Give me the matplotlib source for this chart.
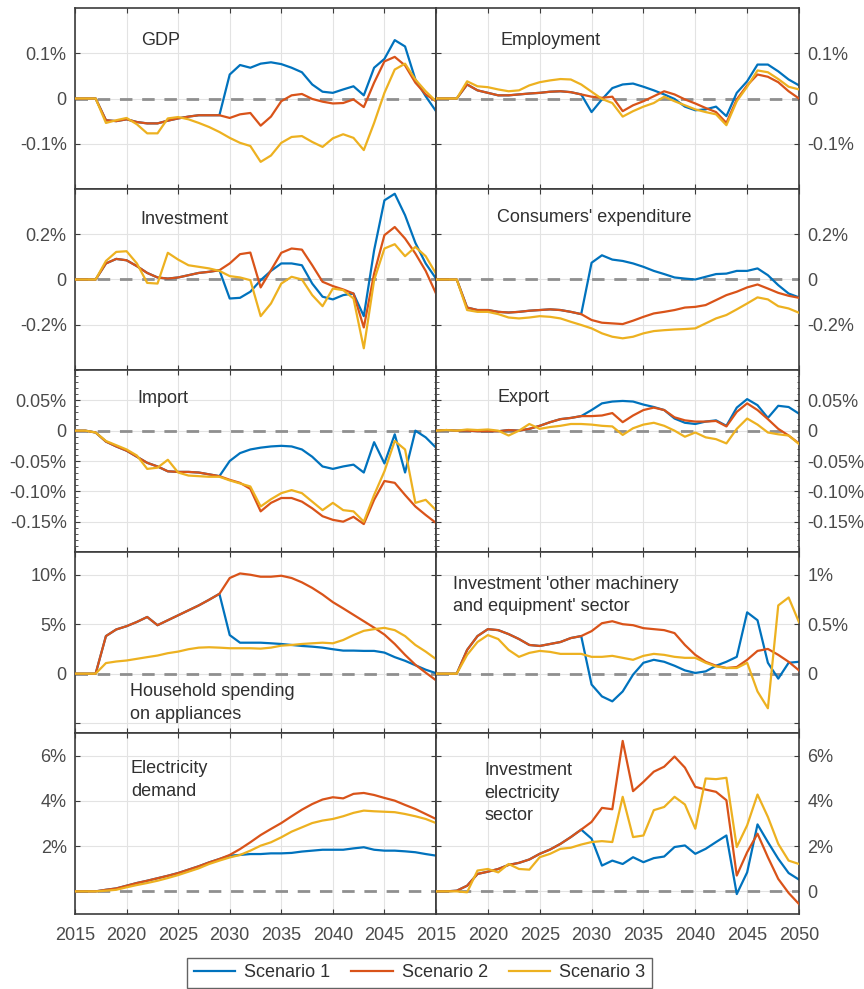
import numpy as np
import matplotlib
matplotlib.use("Agg")
import matplotlib.pyplot as plt
from matplotlib.lines import Line2D

plt.rcParams['font.family'] = ['Liberation Sans', 'DejaVu Sans']

years = list(range(2015, 2051))
scenario_names = ["Scenario 1", "Scenario 2", "Scenario 3"]

# ---- GDP (% deviation) ----
gdp_s1 = [0, 0, 0, -0.048, -0.050, -0.046, -0.052, -0.055, -0.055, -0.049, -0.044, -0.040, -0.037, -0.037, -0.037,
          0.053, 0.074, 0.068, 0.077, 0.080, 0.076, 0.068, 0.058, 0.031, 0.015, 0.0125, 0.020, 0.027, 0.007, 0.068,
          0.0875, 0.129, 0.115, 0.042, 0.005, -0.028]
gdp_s2 = [0, 0, 0, -0.048, -0.050, -0.046, -0.052, -0.055, -0.055, -0.049, -0.044, -0.040, -0.037, -0.037, -0.037,
          -0.043, -0.035, -0.032, -0.060, -0.040, -0.006, 0.007, 0.010, -0.001, -0.007, -0.011, -0.010, -0.002, -0.019,
          0.035, 0.082, 0.092, 0.073, 0.035, 0.009, -0.006]
gdp_s3 = [0, 0, 0, -0.054, -0.048, -0.043, -0.057, -0.077, -0.077, -0.044, -0.041, -0.046, -0.054, -0.063, -0.074,
          -0.087, -0.098, -0.105, -0.140, -0.126, -0.098, -0.085, -0.083, -0.096, -0.107, -0.088, -0.079, -0.087, -0.114,
          -0.054, 0.0125, 0.064, 0.077, 0.042, 0.016, -0.006]

# ---- Employment ----
emp_s1 = [0, 0, 0, 0.031, 0.018, 0.0125, 0.007, 0.007, 0.009, 0.011, 0.0125, 0.015, 0.016, 0.014, 0.009,
          -0.030, -0.002, 0.023, 0.031, 0.033, 0.026, 0.018, 0.009, -0.001, -0.018, -0.026, -0.024, -0.018, -0.039,
          0.0125, 0.038, 0.075, 0.075, 0.060, 0.042, 0.029]
emp_s2 = [0, 0, 0, 0.031, 0.018, 0.0125, 0.007, 0.007, 0.009, 0.011, 0.0125, 0.015, 0.016, 0.014, 0.009,
          0.004, 0.0015, 0.004, -0.028, -0.015, -0.006, 0.005, 0.016, 0.009, -0.002, -0.011, -0.021, -0.030, -0.054,
          -0.002, 0.029, 0.053, 0.048, 0.036, 0.016, 0.0]
emp_s3 = [0, 0, 0, 0.038, 0.027, 0.025, 0.020, 0.016, 0.018, 0.029, 0.036, 0.040, 0.043, 0.042, 0.031,
          0.015, -0.001, -0.010, -0.040, -0.028, -0.018, -0.010, 0.004, -0.006, -0.015, -0.024, -0.030, -0.035, -0.059,
          -0.006, 0.026, 0.062, 0.058, 0.043, 0.026, 0.020]

# ---- Investment ----
inv_s1 = [0, 0, 0, 0.071, 0.091, 0.085, 0.059, 0.029, 0.009, 0.004, 0.009, 0.019, 0.029, 0.034, 0.041,
          -0.084, -0.081, -0.054, -0.003, 0.038, 0.071, 0.071, 0.063, -0.018, -0.076, -0.088, -0.069, -0.062, -0.162,
          0.129, 0.350, 0.379, 0.284, 0.162, 0.071, 0.004]
inv_s2 = [0, 0, 0, 0.071, 0.091, 0.085, 0.059, 0.029, 0.009, 0.004, 0.009, 0.019, 0.029, 0.034, 0.041,
          0.071, 0.112, 0.119, -0.035, 0.041, 0.118, 0.137, 0.132, 0.063, -0.010, -0.029, -0.044, -0.062, -0.212,
          0.026, 0.196, 0.232, 0.181, 0.115, 0.038, -0.062]
inv_s3 = [0, 0, 0, 0.082, 0.122, 0.125, 0.071, -0.015, -0.018, 0.118, 0.088, 0.063, 0.056, 0.049, 0.038,
          0.015, 0.009, -0.003, -0.162, -0.106, -0.018, 0.012, 0.000, -0.069, -0.118, -0.040, -0.047, -0.084, -0.304,
          -0.003, 0.137, 0.156, 0.103, 0.144, 0.103, 0.026]

# ---- Consumers' expenditure ----
con_s1 = [0, 0, 0, -0.124, -0.135, -0.135, -0.143, -0.146, -0.143, -0.138, -0.135, -0.132, -0.135, -0.143, -0.153,
          0.074, 0.107, 0.088, 0.082, 0.071, 0.056, 0.038, 0.024, 0.009, 0.004, 0.000, 0.012, 0.024, 0.026, 0.038,
          0.038, 0.049, 0.019, -0.025, -0.062, -0.079]
con_s2 = [0, 0, 0, -0.124, -0.135, -0.135, -0.143, -0.146, -0.143, -0.138, -0.135, -0.132, -0.135, -0.143, -0.153,
          -0.179, -0.191, -0.194, -0.197, -0.182, -0.165, -0.150, -0.143, -0.135, -0.124, -0.121, -0.113, -0.091,
          -0.069, -0.054, -0.035, -0.022, -0.040, -0.059, -0.072, -0.081]
con_s3 = [0, 0, 0, -0.135, -0.143, -0.143, -0.153, -0.168, -0.172, -0.168, -0.162, -0.165, -0.172, -0.187, -0.201,
          -0.216, -0.238, -0.253, -0.260, -0.253, -0.238, -0.228, -0.224, -0.221, -0.219, -0.216, -0.194, -0.172,
          -0.157, -0.132, -0.106, -0.079, -0.088, -0.118, -0.128, -0.147]

# ---- Import ----
imp_s1 = [0, 0, -0.003, -0.018, -0.026, -0.033, -0.043, -0.053, -0.059, -0.067, -0.068, -0.068, -0.069, -0.072, -0.075,
          -0.050, -0.037, -0.031, -0.028, -0.026, -0.025, -0.026, -0.031, -0.043, -0.059, -0.063, -0.059, -0.056,
          -0.069, -0.019, -0.054, -0.006, -0.069, 0.000, -0.011, -0.028]
imp_s2 = [0, 0, -0.003, -0.018, -0.026, -0.033, -0.043, -0.053, -0.059, -0.067, -0.068, -0.068, -0.069, -0.072, -0.075,
          -0.081, -0.086, -0.096, -0.133, -0.119, -0.111, -0.111, -0.117, -0.128, -0.141, -0.147, -0.150, -0.142,
          -0.154, -0.114, -0.083, -0.086, -0.106, -0.125, -0.139, -0.152]
imp_s3 = [0, 0, -0.003, -0.017, -0.024, -0.031, -0.041, -0.063, -0.061, -0.048, -0.069, -0.074, -0.075, -0.076, -0.076,
          -0.082, -0.087, -0.092, -0.125, -0.113, -0.103, -0.098, -0.103, -0.117, -0.131, -0.119, -0.131, -0.133,
          -0.150, -0.106, -0.067, -0.017, -0.031, -0.119, -0.114, -0.131]

# ---- Export ----
exp_s1 = [0, 0.001, 0, 0, -0.001, -0.001, -0.001, 0.001, 0, 0.003, 0.008, 0.014, 0.019, 0.021, 0.024,
          0.034, 0.045, 0.048, 0.049, 0.048, 0.043, 0.039, 0.034, 0.020, 0.013, 0.011, 0.015, 0.017, 0.008, 0.038,
          0.052, 0.042, 0.021, 0.041, 0.039, 0.028]
exp_s2 = [0, 0.001, 0, 0, -0.001, -0.001, -0.001, 0.001, 0, 0.003, 0.008, 0.014, 0.019, 0.021, 0.024,
          0.024, 0.025, 0.029, 0.014, 0.025, 0.034, 0.038, 0.034, 0.022, 0.017, 0.015, 0.015, 0.016, 0.007, 0.031,
          0.045, 0.034, 0.019, 0.003, -0.008, -0.021]
exp_s3 = [0, 0.001, 0, 0.002, 0.001, 0.002, 0, -0.008, 0, 0.011, 0.003, 0.006, 0.008, 0.011, 0.011,
          0.010, 0.008, 0.007, -0.007, 0.004, 0.010, 0.013, 0.008, 0.000, -0.010, -0.003, -0.011, -0.014, -0.021,
          0.003, 0.020, 0.010, -0.003, -0.006, -0.008, -0.022]

# ---- Household spending on appliances ----
hh_s1 = [0, 0, 0, 3.8, 4.47, 4.8, 5.23, 5.73, 4.9, 5.4, 5.9, 6.4, 6.9, 7.47, 8.07,
         3.9, 3.13, 3.13, 3.13, 3.07, 3.0, 2.9, 2.8, 2.73, 2.63, 2.47, 2.33, 2.33, 2.3, 2.3,
         2.13, 1.67, 1.3, 0.85, 0.4, 0.05]
hh_s2 = [0, 0, 0, 3.8, 4.47, 4.8, 5.23, 5.73, 4.9, 5.4, 5.9, 6.4, 6.9, 7.47, 8.07,
         9.67, 10.13, 10.0, 9.8, 9.8, 9.9, 9.67, 9.23, 8.67, 8.0, 7.23, 6.6, 5.95, 5.3, 4.65,
         3.95, 3.0, 1.9, 0.9, 0.1, -0.67]
hh_s3 = [0, 0, 0, 1.07, 1.23, 1.33, 1.5, 1.67, 1.83, 2.07, 2.23, 2.47, 2.63, 2.67, 2.63,
         2.57, 2.57, 2.57, 2.53, 2.63, 2.83, 2.9, 3.0, 3.07, 3.13, 3.07, 3.4, 3.9, 4.33, 4.5,
         4.63, 4.4, 3.8, 2.9, 2.23, 1.47]

# ---- Investment 'other machinery and equipment' sector ----
mach_s1 = [0, 0, 0, 0.24, 0.38, 0.45, 0.44, 0.40, 0.35, 0.29, 0.28, 0.30, 0.32, 0.36, 0.38,
           -0.11, -0.23, -0.28, -0.18, -0.01, 0.11, 0.14, 0.12, 0.08, 0.033, 0.007, 0.023, 0.08, 0.12, 0.17,
           0.62, 0.54, 0.11, -0.05, 0.11, 0.12]
mach_s2 = [0, 0, 0, 0.24, 0.38, 0.45, 0.44, 0.40, 0.35, 0.29, 0.28, 0.30, 0.32, 0.36, 0.38,
           0.43, 0.51, 0.53, 0.50, 0.49, 0.46, 0.45, 0.44, 0.41, 0.29, 0.19, 0.12, 0.08, 0.057, 0.067,
           0.14, 0.23, 0.25, 0.19, 0.12, 0.033]
mach_s3 = [0, 0, 0, 0.19, 0.32, 0.39, 0.35, 0.24, 0.17, 0.21, 0.23, 0.22, 0.20, 0.20, 0.20,
           0.17, 0.17, 0.18, 0.16, 0.14, 0.18, 0.20, 0.19, 0.17, 0.16, 0.16, 0.11, 0.073, 0.057, 0.057,
           0.11, -0.18, -0.35, 0.69, 0.77, 0.52]

# ---- Electricity demand ----
eld_s1 = [0, 0, 0, 0.07, 0.13, 0.25, 0.37, 0.47, 0.58, 0.69, 0.81, 0.96, 1.11, 1.28, 1.43,
          1.58, 1.61, 1.65, 1.65, 1.68, 1.68, 1.70, 1.76, 1.80, 1.84, 1.84, 1.84, 1.90, 1.95, 1.84,
          1.80, 1.80, 1.77, 1.73, 1.65, 1.58]
eld_s2 = [0, 0, 0, 0.07, 0.13, 0.25, 0.37, 0.47, 0.58, 0.69, 0.81, 0.96, 1.11, 1.28, 1.43,
          1.61, 1.87, 2.17, 2.49, 2.76, 3.02, 3.32, 3.61, 3.86, 4.06, 4.16, 4.11, 4.31, 4.35, 4.26,
          4.13, 4.01, 3.82, 3.64, 3.42, 3.20]
eld_s3 = [0, 0, 0, 0.03, 0.07, 0.18, 0.28, 0.37, 0.47, 0.59, 0.72, 0.87, 1.02, 1.21, 1.36,
          1.50, 1.61, 1.80, 2.02, 2.17, 2.39, 2.64, 2.83, 3.02, 3.13, 3.20, 3.32, 3.47, 3.57, 3.54,
          3.52, 3.50, 3.42, 3.32, 3.20, 3.02]

# ---- Investment electricity sector ----
iel_s1 = [0, 0, 0.03, 0.25, 0.77, 0.87, 0.99, 1.17, 1.26, 1.41, 1.66, 1.85, 2.10, 2.40, 2.73,
          2.33, 1.14, 1.36, 1.21, 1.51, 1.29, 1.47, 1.54, 1.96, 2.03, 1.66, 1.88, 2.18, 2.47, -0.12,
          0.84, 2.96, 2.18, 1.44, 0.81, 0.52]
iel_s2 = [0, 0, 0.03, 0.25, 0.77, 0.87, 0.99, 1.17, 1.26, 1.41, 1.66, 1.85, 2.10, 2.40, 2.73,
          3.07, 3.69, 3.63, 6.65, 4.43, 4.84, 5.29, 5.51, 5.96, 5.47, 4.62, 4.50, 4.40, 4.03, 0.70,
          1.73, 2.55, 1.51, 0.55, -0.07, -0.56]
iel_s3 = [0, 0, 0, -0.04, 0.92, 0.99, 0.84, 1.21, 0.99, 0.96, 1.51, 1.66, 1.88, 1.93, 2.07,
          2.18, 2.22, 2.18, 4.18, 2.40, 2.47, 3.59, 3.73, 4.18, 3.84, 2.77, 4.99, 4.96, 5.02, 1.96,
          2.92, 4.28, 3.29, 2.10, 1.36, 1.21]

titles = ["GDP", "Employment", "Investment", "Consumers' expenditure", "Import", "Export",
          "Household spending\non appliances", "Investment 'other machinery\nand equipment' sector",
          "Electricity\ndemand", "Investment\nelectricity\nsector"]

series = [(gdp_s1, gdp_s2, gdp_s3), (emp_s1, emp_s2, emp_s3),
          (inv_s1, inv_s2, inv_s3), (con_s1, con_s2, con_s3),
          (imp_s1, imp_s2, imp_s3), (exp_s1, exp_s2, exp_s3),
          (hh_s1, hh_s2, hh_s3), (mach_s1, mach_s2, mach_s3),
          (eld_s1, eld_s2, eld_s3), (iel_s1, iel_s2, iel_s3)]

# y ticks and their labels per panel
yticks = [[-0.1, 0, 0.1], [-0.1, 0, 0.1],
          [-0.2, 0, 0.2], [-0.2, 0, 0.2],
          [-0.15, -0.10, -0.05, 0, 0.05], [-0.15, -0.10, -0.05, 0, 0.05],
          [-5, 0, 5, 10], [-0.5, 0, 0.5, 1],
          [2, 4, 6], [0, 2, 4, 6]]
ytick_labels = [["-0.1%", "0", "0.1%"], ["-0.1%", "0", "0.1%"],
                ["-0.2%", "0", "0.2%"], ["-0.2%", "0", "0.2%"],
                ["-0.15%", "-0.10%", "-0.05%", "0", "0.05%"], ["-0.15%", "-0.10%", "-0.05%", "0", "0.05%"],
                ["", "0", "5%", "10%"], ["", "0", "0.5%", "1%"],
                ["2%", "4%", "6%"], ["0", "2%", "4%", "6%"]]
ylims = [(-0.2, 0.2), (-0.2, 0.2), (-0.4, 0.4), (-0.4, 0.4), (-0.2, 0.1), (-0.2, 0.1),
         (-6, 12.3), (-0.6, 1.23), (-1, 7), (-1, 7)]
title_pos = [(0.183, 0.82), (0.177, 0.82), (0.18, 0.834), (0.168, 0.84), (0.174, 0.846), (0.17, 0.85),
             (0.152, 0.166), (0.047, 0.76), (0.155, 0.74), (0.133, 0.668)]

colors = ["#0072BD", "#D95319", "#EDB120"]
spine_col = "#3c3c3c"
text_col = "#4a4a4a"
W, H = 864, 989

fig = plt.figure(figsize=(W / 100, H / 100), dpi=100)
row_tops = [8, 189, 370, 552, 733]
row_bot = 914
col_x = [(75, 436), (436, 799)]

for i in range(10):
    r, c = divmod(i, 2)
    top = row_tops[r]
    bot = row_tops[r + 1] if r < 4 else row_bot
    x0, x1 = col_x[c]
    ax = fig.add_axes([x0 / W, 1 - bot / H, (x1 - x0) / W, (bot - top) / H])
    ax.set_xlim(2015, 2050)
    ax.set_ylim(*ylims[i])
    ax.set_xticks(range(2015, 2051, 5))
    ax.set_yticks(yticks[i])
    ax.set_yticklabels(ytick_labels[i])
    ax.grid(True, color="#e3e3e3", lw=0.8, zorder=0)
    ax.set_axisbelow(True)
    ax.axhline(0, color="#8f8f8f", lw=2.0, ls=(0, (4.5, 3.5)), zorder=1)
    for k in range(3):
        ax.plot(years, series[i][k], color=colors[k], lw=1.6, zorder=2 + k)
    ax.text(title_pos[i][0], title_pos[i][1], titles[i], transform=ax.transAxes,
            ha="left", va="center", fontsize=13, color="#303030", linespacing=1.42)
    for s in ax.spines.values():
        s.set_color(spine_col)
        s.set_linewidth(1.2)
    ax.tick_params(direction="in", length=3.5, width=0.8, color=spine_col,
                   top=True, bottom=True, left=True, right=True,
                   labelsize=13, labelcolor=text_col, pad=6)
    ax.tick_params(axis="y", labelleft=(c == 0), labelright=(c == 1))
    if r == 2:
        ax.set_yticks(np.arange(-0.2, 0.1001, 0.01), minor=True)
        ax.tick_params(axis="y", which="minor", direction="in", length=1.8, width=0.6,
                       color=spine_col, left=True, right=True)
    if r < 4:
        ax.tick_params(axis="x", labelbottom=False)
    else:
        labels = [str(y) for y in range(2015, 2051, 5)]
        if c == 0:
            labels[-1] = ""
        ax.set_xticklabels(labels)
        ax.tick_params(axis="x", pad=9)

handles = [Line2D([0], [0], color=colors[k], lw=1.6) for k in range(3)]
leg = fig.legend(handles, scenario_names, loc="upper center", ncol=3,
                 bbox_to_anchor=(419.5 / W, 1 - 958 / H), frameon=True, fancybox=False,
                 fontsize=13, handlelength=2.3, columnspacing=1.15, handletextpad=0.5,
                 borderpad=0.35, borderaxespad=0.0, edgecolor="#3c3c3c", labelcolor="#303030")
leg.get_frame().set_linewidth(1.0)

fig.savefig("out.png", dpi=100)
